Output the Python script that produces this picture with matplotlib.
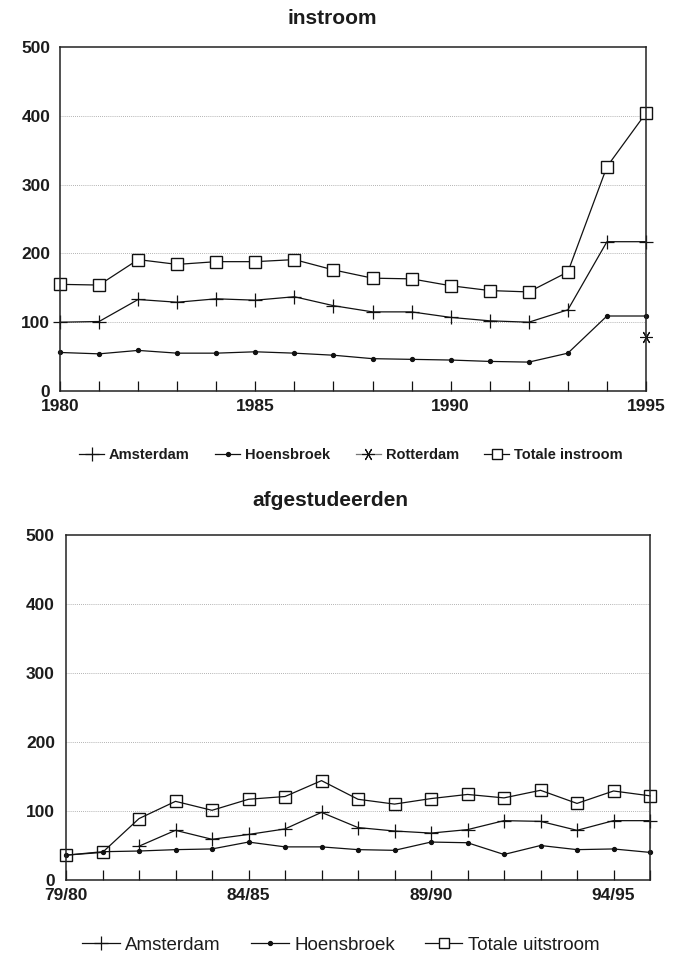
import matplotlib
matplotlib.use("Agg")
import matplotlib.pyplot as plt
from matplotlib.lines import Line2D
import numpy as np

plt.rcParams['font.family'] = ['Liberation Sans', 'DejaVu Sans']

# ---------------- data: instroom ----------------
years = [1980, 1981, 1982, 1983, 1984, 1985, 1986, 1987, 1988, 1989,
         1990, 1991, 1992, 1993, 1994, 1995]
in_amsterdam = [100, 101, 133, 129, 134, 132, 137, 124, 115, 115,
                107, 102, 100, 118, 217, 217]
in_hoensbroek = [56, 54, 59, 55, 55, 57, 55, 52, 47, 46,
                 45, 43, 42, 55, 109, 109]
in_rotterdam_years = [1995]
in_rotterdam = [79]
in_totaal = [155, 154, 191, 184, 188, 188, 191, 176, 164, 163,
             153, 146, 144, 173, 326, 404]

# ---------------- data: afgestudeerden ----------------
cohorts = ['79/80', '80/81', '81/82', '82/83', '83/84', '84/85', '85/86',
           '86/87', '87/88', '88/89', '89/90', '90/91', '91/92', '92/93',
           '93/94', '94/95', '95/96']
cohort_labels_shown = ['79/80', '84/85', '89/90', '94/95']
out_amsterdam = [None, None, 49, 72, 59, 66, 74, 98, 76, 71,
                 68, 73, 86, 85, 72, 86, 86]
out_hoensbroek = [36, 41, 42, 44, 45, 55, 48, 48, 44, 43,
                  55, 54, 37, 50, 44, 45, 40]
out_totaal = [36, 40, 89, 114, 101, 117, 121, 144, 117, 110,
              118, 124, 119, 130, 111, 129, 122]

yticks = [0, 100, 200, 300, 400, 500]

TXT = '#1c1c1c'
LC = '#111111'
lw = 0.9
AST = (6, 2, 30)

fig = plt.figure(figsize=(6.78, 9.55), dpi=100)

def style_axes(ax, ypad=5):
    ax.set_ylim(0, 500)
    ax.set_yticks(yticks)
    ax.set_yticklabels([str(v) for v in yticks], fontsize=12.5,
                       fontweight='bold', color=TXT)
    ax.tick_params(axis='y', length=0, pad=ypad)
    ax.tick_params(axis='x', direction='in', length=7, width=0.9,
                   pad=6, colors=LC, labelcolor=TXT)
    for lab in ax.get_xticklabels():
        lab.set_fontsize(12.5)
        lab.set_fontweight('bold')
    for s in ax.spines.values():
        s.set_linewidth(1.1)
        s.set_color('#222222')
    for v in [100, 200, 300, 400]:
        ax.axhline(v, color='#9a9a9a', lw=0.6, ls=(0, (1, 1.5)), zorder=0)

# ---------------- top chart ----------------
ax1 = fig.add_axes([60/678, 1-391/955, 586/678, 344/955])
ax1.set_xlim(1980, 1995)
ax1.set_xticks(years)
ax1.set_xticklabels([str(y) if y % 5 == 0 else '' for y in years])
style_axes(ax1, ypad=7)

ax1.plot(years, in_amsterdam, color=LC, lw=lw, marker='+',
         markersize=10, markeredgewidth=0.9, clip_on=False)
ax1.plot(years, in_hoensbroek, color=LC, lw=lw, marker='o',
         markersize=2.8, clip_on=False)
ax1.plot(in_rotterdam_years, in_rotterdam, color=LC, lw=lw,
         marker=AST, markersize=9, markeredgewidth=0.8,
         linestyle='none', clip_on=False)
ax1.plot(years, in_totaal, color=LC, lw=lw, marker='s',
         markersize=8, markerfacecolor='white',
         markeredgewidth=1.0, clip_on=False)
fig.text(332/678, 1-19/955, 'instroom', fontsize=15, fontweight='bold',
         color=TXT, ha='center', va='center')

h1 = [Line2D([0], [0], color=LC, lw=lw, marker='+', markersize=10, markeredgewidth=0.9),
      Line2D([0], [0], color=LC, lw=lw, marker='o', markersize=2.8),
      Line2D([0], [0], color='#777777', lw=lw, marker=AST, markersize=9,
             markeredgecolor=LC, markeredgewidth=0.8),
      Line2D([0], [0], color=LC, lw=lw, marker='s', markersize=7,
             markerfacecolor='white', markeredgewidth=1.0)]
fig.legend(h1, ['Amsterdam', 'Hoensbroek', 'Rotterdam', 'Totale instroom'],
           loc='center', bbox_to_anchor=(351/678, 1-455/955), ncol=4,
           frameon=False, handlelength=1.7, handletextpad=0.35,
           columnspacing=1.75, prop={'size': 10.5, 'weight': 'bold'},
           labelcolor=TXT)

# ---------------- bottom chart ----------------
ax2 = fig.add_axes([66/678, 1-880/955, 584/678, 345/955])
xi = np.arange(len(cohorts))
ax2.set_xlim(0, len(cohorts) - 1)
ax2.set_xticks(xi)
ax2.set_xticklabels([c if c in cohort_labels_shown else '' for c in cohorts])
style_axes(ax2, ypad=8)

am = np.array([np.nan if v is None else v for v in out_amsterdam], dtype=float)
ax2.plot(xi, am, color=LC, lw=lw, marker='+', markersize=10,
         markeredgewidth=0.9, clip_on=False)
ax2.plot(xi, out_hoensbroek, color=LC, lw=lw, marker='o', markersize=2.8,
         clip_on=False)
ax2.plot(xi, out_totaal, color=LC, lw=lw, marker='s', markersize=8,
         markerfacecolor='none', markeredgewidth=1.0, clip_on=False)
fig.text(330/678, 1-501/955, 'afgestudeerden', fontsize=15, fontweight='bold',
         color=TXT, ha='center', va='center')

h2 = [Line2D([0], [0], color=LC, lw=lw, marker='+', markersize=10, markeredgewidth=0.9),
      Line2D([0], [0], color=LC, lw=lw, marker='o', markersize=2.8),
      Line2D([0], [0], color=LC, lw=lw, marker='s', markersize=7,
             markerfacecolor='white', markeredgewidth=1.0)]
fig.legend(h2, ['Amsterdam', 'Hoensbroek', 'Totale uitstroom'],
           loc='center', bbox_to_anchor=(341/678, 1-945/955), ncol=3,
           frameon=False, handlelength=2.0, handletextpad=0.3,
           columnspacing=1.6, prop={'size': 13.5}, labelcolor=TXT)

fig.savefig('out.png', dpi=100, facecolor='white')
